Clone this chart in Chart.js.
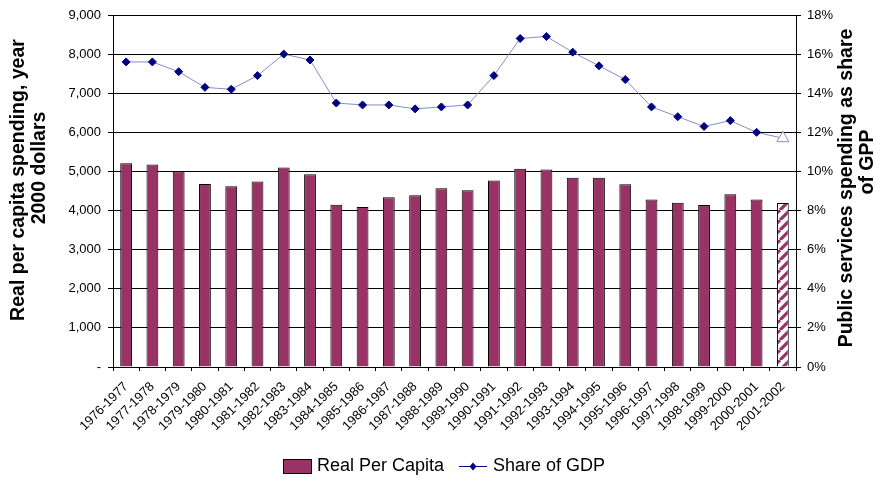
<!DOCTYPE html>
<html>
<head>
<meta charset="utf-8">
<script src="https://cdn.jsdelivr.net/npm/chart.js@4/dist/chart.umd.min.js"></script>
<style>
  html, body { margin: 0; padding: 0; background: #fff; }
  canvas { display: block; }
</style>
</head>
<body>
<canvas id="spendChart" width="881" height="479"></canvas>
<script>
// --- Data ---
const years = ['1976-1977', '1977-1978', '1978-1979', '1979-1980', '1980-1981', '1981-1982',
  '1982-1983', '1983-1984', '1984-1985', '1985-1986', '1986-1987', '1987-1988', '1988-1989',
  '1989-1990', '1990-1991', '1991-1992', '1992-1993', '1993-1994', '1994-1995', '1995-1996',
  '1996-1997', '1997-1998', '1998-1999', '1999-2000', '2000-2001', '2001-2002'];

// real per capita spending, year 2000 dollars
const perCapita = [5210, 5180, 5000, 4680, 4620, 4740, 5100, 4930, 4150, 4090, 4340, 4390, 4570,
  4520, 4770, 5070, 5050, 4840, 4840, 4670, 4280, 4200, 4140, 4420, 4280, 4190];

// public services spending as share of GDP (%)
const gdpShare = [15.6, 15.6, 15.1, 14.3, 14.2, 14.9, 16.0, 15.7, 13.5, 13.4, 13.4, 13.2, 13.3,
  13.4, 14.9, 16.8, 16.9, 16.1, 15.4, 14.7, 13.3, 12.8, 12.3, 12.6, 12.0, 11.7];

const leftTicks = [0, 1000, 2000, 3000, 4000, 5000, 6000, 7000, 8000, 9000];
const rightTicks = [0, 2, 4, 6, 8, 10, 12, 14, 16, 18];

const FONT = "'Liberation Sans', Arial, sans-serif";
const MAROON = '#993366';
const NAVY = '#000080';
const LINE_COLOR = '#8a8ad0';
const last = years.length - 1;

// diagonal maroon/white hatch for the estimated year
function makeHatch() {
  const c = document.createElement('canvas');
  c.width = 10; c.height = 10;
  const g = c.getContext('2d');
  g.fillStyle = '#fff';
  g.fillRect(0, 0, 10, 10);
  g.strokeStyle = MAROON;
  g.lineWidth = 3.2;
  g.beginPath();
  for (let k = -10; k <= 20; k += 10) {
    g.moveTo(k, 10);
    g.lineTo(k + 10, 0);
  }
  g.stroke();
  return g.createPattern(c, 'repeat');
}

const ctx = document.getElementById('spendChart').getContext('2d');
const hatch = makeHatch();

// axis titles (both read bottom-to-top) and the legend
const decorations = {
  id: 'decorations',
  afterDraw(chart) {
    const g = chart.ctx;
    g.save();
    g.fillStyle = '#000';
    g.textAlign = 'center';
    g.textBaseline = 'middle';
    g.font = 'bold 19.5px ' + FONT;
    const vtext = (txt, x, y) => {
      g.save();
      g.translate(x, y);
      g.rotate(-Math.PI / 2);
      g.fillText(txt, 0, 0);
      g.restore();
    };
    vtext('Real per capita spending, year', 19, 180);
    vtext('2000 dollars', 40, 168);
    vtext('Public services spending as share', 847, 188);
    vtext('of GPP', 868, 162);

    // legend
    const ly = 466;
    g.fillStyle = MAROON;
    g.fillRect(283.5, 459.5, 28, 14);
    g.strokeStyle = '#000';
    g.lineWidth = 1;
    g.strokeRect(283.5, 459.5, 28, 14);
    g.font = '18px ' + FONT;
    g.textAlign = 'left';
    g.fillStyle = '#000';
    g.fillText('Real Per Capita', 317, ly);

    g.strokeStyle = NAVY;
    g.beginPath();
    g.moveTo(459, ly + 0.5);
    g.lineTo(487, ly + 0.5);
    g.stroke();
    g.fillStyle = NAVY;
    g.beginPath();
    g.moveTo(473, ly - 3.5);
    g.lineTo(476.5, ly + 0.5);
    g.lineTo(473, ly + 4.5);
    g.lineTo(469.5, ly + 0.5);
    g.closePath();
    g.fill();
    g.fillStyle = '#000';
    g.fillText('Share of GDP', 493, ly);
    g.restore();
  }
};

new Chart(ctx, {
  type: 'bar',
  data: {
    labels: years,
    datasets: [
      {
        type: 'line',
        label: 'Share of GDP',
        data: gdpShare,
        yAxisID: 'y1',
        borderColor: LINE_COLOR,
        borderWidth: 1,
        tension: 0,
        pointStyle: years.map((_, i) => i === last ? 'triangle' : 'rectRot'),
        pointRadius: years.map((_, i) => i === last ? 7 : 4),
        pointBackgroundColor: years.map((_, i) => i === last ? '#fff' : NAVY),
        pointBorderColor: years.map((_, i) => i === last ? LINE_COLOR : NAVY),
        pointBorderWidth: 1,
        order: 0
      },
      {
        label: 'Real Per Capita',
        data: perCapita,
        yAxisID: 'y',
        backgroundColor: years.map((_, i) => i === last ? hatch : MAROON),
        borderColor: '#000',
        borderWidth: 1,
        borderSkipped: 'bottom',
        categoryPercentage: 1,
        barPercentage: 0.45,
        order: 1
      }
    ]
  },
  options: {
    responsive: false,
    devicePixelRatio: 1,
    animation: false,
    layout: { padding: { top: 15, left: 0, right: 0, bottom: 0 } },
    plugins: {
      legend: { display: false },
      tooltip: { enabled: false }
    },
    scales: {
      x: {
        grid: { drawOnChartArea: false, drawTicks: true, tickLength: 4, color: '#000' },
        border: { color: '#000', width: 1 },
        ticks: {
          autoSkip: false, minRotation: 45, maxRotation: 45, padding: 8,
          color: '#000', font: { family: FONT, size: 13 }
        },
        afterFit(scale) { scale.height = 112; }
      },
      y: {
        position: 'left',
        min: 0, max: 9000,
        afterBuildTicks(scale) { scale.ticks = leftTicks.map(v => ({ value: v })); },
        grid: { color: '#000', lineWidth: 1, tickLength: 5 },
        border: { color: '#000', width: 1 },
        ticks: {
          padding: 7, color: '#000', font: { family: FONT, size: 13 },
          callback: v => v === 0 ? '-' : v.toLocaleString('en-US')
        },
        afterFit(scale) { scale.width = 113; }
      },
      y1: {
        position: 'right',
        min: 0, max: 18,
        afterBuildTicks(scale) { scale.ticks = rightTicks.map(v => ({ value: v })); },
        grid: { drawOnChartArea: false, color: '#000', tickLength: 5 },
        border: { color: '#000', width: 1 },
        ticks: {
          padding: 6, color: '#000', font: { family: FONT, size: 13 },
          callback: v => v + '%'
        },
        afterFit(scale) { scale.width = 85; }
      }
    }
  },
  plugins: [decorations]
});
</script>
</body>
</html>
